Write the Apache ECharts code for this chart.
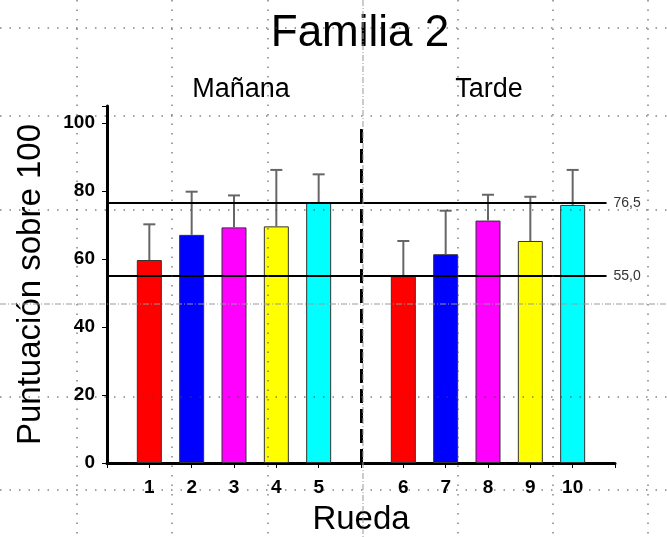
<!DOCTYPE html>
<html>
<head>
<meta charset="utf-8">
<script src="https://cdn.jsdelivr.net/npm/echarts@6.0.0/dist/echarts.min.js"></script>
<style>
html,body{margin:0;padding:0;background:#fff;}
#charts{width:667px;height:537px;}
</style>
</head>
<body>
<div id="charts"></div>
<script>
// datos
var ruedas = ['1','2','3','4','5','6','7','8','9','10'];
var posicion = [1,2,3,4,5,7,8,9,10,11];
var puntuacion = [59.7,67.1,69.3,69.6,76.6,54.8,61.4,71.3,65.3,75.9];
var errorSup = [70.2,79.8,78.7,86.2,84.9,65.3,74.2,78.9,78.3,86.2];
var colores = ['#FF0000','#0000FF','#FF00FF','#FFFF00','#00FFFF','#FF0000','#0000FF','#FF00FF','#FFFF00','#00FFFF'];
var yTicks = [0,20,40,60,80,100];
var lineaAlta = 76.5, lineaBaja = 55.0;
var turnos = ['Mañana','Tarde'];

var charts = echarts.init(document.getElementById('charts'));

var barData = [], errData = [];
for (var i = 0; i < ruedas.length; i++) {
	barData.push({value:[posicion[i], puntuacion[i]], itemStyle:{color:colores[i]}});
	errData.push([posicion[i], puntuacion[i], errorSup[i]]);
}

//cuadricula punteada de fondo
var fondo = [];
var vx = [77,172,268,363,458,553,648];
var hy = [28,116,210,304,397,490];
for (var i = 0; i < vx.length; i++) {
	var centro = vx[i] == 363;
	fondo.push({type:'line', z:50, silent:true,
		shape:{x1:vx[i], y1:0, x2:vx[i], y2:537},
		style:{stroke:centro ? '#999' : '#444', lineWidth:1, lineDash:centro ? [6,2,1,2] : [1.5,8]}});
}
for (var i = 0; i < hy.length; i++) {
	var centro = hy[i] == 304;
	fondo.push({type:'line', z:50, silent:true,
		shape:{x1:0, y1:hy[i], x2:667, y2:hy[i]},
		style:{stroke:centro ? '#999' : '#444', lineWidth:1, lineDash:centro ? [6,2,1,2] : [1.5,8]}});
}
fondo.push({type:'text', x:241, y:103, z:60,
	style:{text:turnos[0], font:'27px "Liberation Sans", Arial', fill:'#000', align:'center', verticalAlign:'bottom'}});
fondo.push({type:'text', x:489, y:103, z:60,
	style:{text:turnos[1], font:'27px "Liberation Sans", Arial', fill:'#000', align:'center', verticalAlign:'bottom'}});

var option = {
	animation:false,
	title:{
		text:'Familia 2',
		left:355, top:7, textAlign:'center',
		textStyle:{fontFamily:'Liberation Sans', fontSize:44, fontWeight:'normal', color:'#000'}
	},
	grid:{left:107, right:52, top:106, bottom:74, containLabel:false, outerBoundsMode:'none'},
	xAxis:{
		type:'value', min:0, max:12, interval:1,
		name:'Rueda', nameLocation:'middle', nameGap:40,
		nameTextStyle:{fontFamily:'Liberation Sans', fontSize:33, color:'#000'},
		axisLine:{show:true, lineStyle:{color:'#000', width:3}},
		axisTick:{show:true, length:5, lineStyle:{color:'#000', width:1}},
		axisLabel:{
			margin:15, fontFamily:'Liberation Sans', fontSize:19, fontWeight:'bold', color:'#000',
			formatter:function(v){
				var k = posicion.indexOf(v);
				return k >= 0 ? ruedas[k] : '';
			}
		},
		splitLine:{show:false}
	},
	yAxis:{
		type:'value', min:0, max:105, interval:20,
		name:'Puntuación sobre 100', nameLocation:'middle', nameGap:60,
		nameTextStyle:{fontFamily:'Liberation Sans', fontSize:33, color:'#000'},
		axisLine:{show:true, lineStyle:{color:'#000', width:3}},
		axisTick:{show:true, length:5, lineStyle:{color:'#000', width:1}},
		axisLabel:{
			margin:12, fontFamily:'Liberation Sans', fontSize:19, fontWeight:'bold', color:'#000',
			formatter:function(v){ return yTicks.indexOf(v) >= 0 ? v : ''; }
		},
		splitLine:{show:false}
	},
	series:[{
		type:'bar',
		barWidth:25,
		data:barData,
		itemStyle:{borderColor:'#333', borderWidth:1},
		markLine:{
			silent:true, symbol:'none',
			data:[
				[{coord:[0,lineaAlta], value:lineaAlta},{coord:[11.8,lineaAlta]}],
				[{coord:[0,lineaBaja], value:lineaBaja},{coord:[11.8,lineaBaja]}],
				[{coord:[6,0], lineStyle:{type:[14,6], width:3, color:'#000'}, label:{show:false}},{coord:[6,100]}]
			],
			lineStyle:{color:'#000', width:2, type:'solid'},
			label:{
				show:true, position:'end', distance:7, fontFamily:'Liberation Sans', fontSize:14, color:'#333',
				formatter:function(p){ return Number(p.value).toFixed(1).replace('.', ','); }
			}
		}
	},{
		type:'custom',
		data:errData,
		z:3,
		renderItem:function(params, api){
			var x = api.value(0);
			var p0 = api.coord([x, api.value(1)]);
			var p1 = api.coord([x, api.value(2)]);
			var st = {stroke:'#666', lineWidth:2};
			return {type:'group', children:[
				{type:'line', shape:{x1:p0[0], y1:p0[1], x2:p1[0], y2:p1[1]}, style:st},
				{type:'line', shape:{x1:p1[0]-6, y1:p1[1], x2:p1[0]+6, y2:p1[1]}, style:st}
			]};
		}
	}],
	graphic:fondo
};
charts.setOption(option);
</script>
</body>
</html>
